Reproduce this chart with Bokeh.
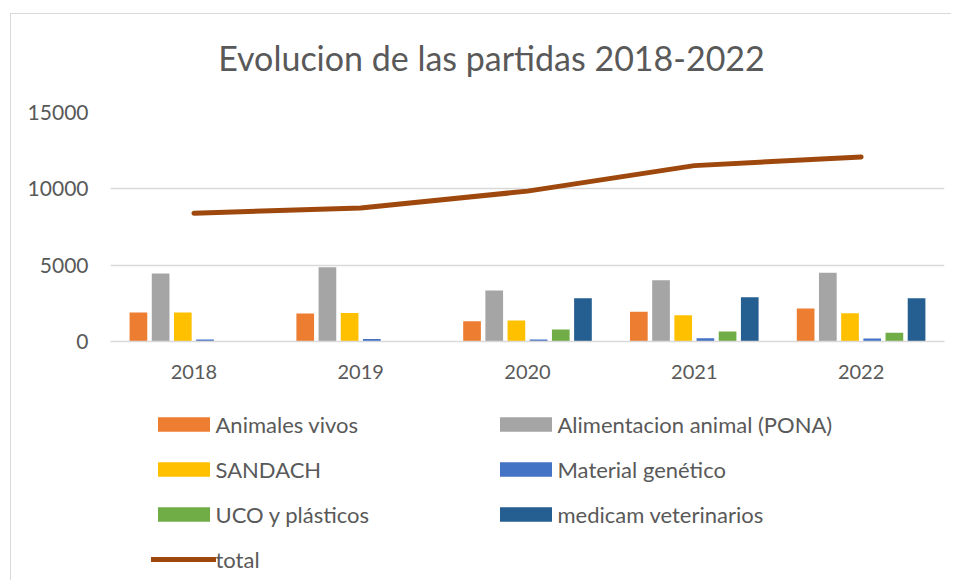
from bokeh.plotting import figure
from bokeh.layouts import column
from bokeh.models import (ColumnDataSource, FactorRange, Range1d, FixedTicker,
                          Legend, LegendItem, Label)
from bokeh.transform import dodge
from bokeh.embed import file_html
from bokeh.resources import INLINE

years = ["2018", "2019", "2020", "2021", "2022"]
animales_vivos = [1900, 1835, 1330, 1945, 2160]
alimentacion_animal = [4450, 4870, 3340, 4020, 4500]
sandach = [1900, 1875, 1375, 1725, 1855]
material_genetico = [130, 170, 130, 215, 190]
uco_plasticos = [0, 0, 790, 655, 565]
medicam_veterinarios = [0, 0, 2840, 2900, 2840]
total = [8400, 8750, 9850, 11520, 12090]

TITLE = "Evolucion de las partidas 2018-2022"
series = [
    ("animales_vivos", "Animales vivos", "#ED7D31"),
    ("alimentacion_animal", "Alimentacion animal (PONA)", "#A5A5A5"),
    ("sandach", "SANDACH", "#FFC000"),
    ("material_genetico", "Material genético", "#4472C4"),
    ("uco_plasticos", "UCO y plásticos", "#70AD47"),
    ("medicam_veterinarios", "medicam veterinarios", "#255E91"),
]
LINE_COLOR = "#9E480E"

source = ColumnDataSource(dict(
    year=years,
    animales_vivos=animales_vivos,
    alimentacion_animal=alimentacion_animal,
    sandach=sandach,
    material_genetico=material_genetico,
    uco_plasticos=uco_plasticos,
    medicam_veterinarios=medicam_veterinarios,
    total=total,
))

FONT = "Lato"
TXT = "#595959"
GRID = "#D9D9D9"
W = 940
ML, MR = 99, 7
FW = W - ML - MR


def blank(fig):
    fig.outline_line_color = None
    fig.grid.visible = False
    fig.background_fill_color = "white"
    fig.border_fill_color = "white"


# ---------------- title panel ----------------
TH = 85
tf = figure(width=W, height=TH, x_range=Range1d(0, FW), y_range=Range1d(0, TH),
            x_axis_location=None, y_axis_location=None,
            output_backend="svg", toolbar_location=None,
            min_border_left=ML, min_border_right=MR,
            min_border_top=0, min_border_bottom=0)
blank(tf)
tf.add_layout(Label(x=381, y=42, text=TITLE, text_align="center",
                    text_baseline="middle", text_font=FONT,
                    text_font_size="34px", text_color=TXT))

# ---------------- main chart ----------------
p = figure(
    width=W, height=295,
    x_range=FactorRange(*years),
    y_range=Range1d(0, 15000),
    output_backend="svg", toolbar_location=None,
    min_border_left=ML, min_border_right=MR,
    min_border_top=13, min_border_bottom=53,
)
p.background_fill_color = "white"
p.border_fill_color = "white"
p.outline_line_color = None

step = 0.133
bw = 0.106
n = len(series)
for i, (col, label, color) in enumerate(series):
    off = (i - (n - 1) / 2) * step
    p.vbar(x=dodge("year", off, range=p.x_range), top=col, width=bw,
           source=source, fill_color=color, line_color=None)

p.line(x="year", y="total", source=source, line_width=5,
       line_color=LINE_COLOR, line_cap="round", line_join="round")

p.xgrid.grid_line_color = None
p.ygrid.grid_line_color = GRID
p.ygrid.grid_line_width = 1.3
p.yaxis.ticker = FixedTicker(ticks=[0, 5000, 10000, 15000])
p.yaxis.axis_line_color = None
p.yaxis.major_tick_line_color = None
p.yaxis.major_tick_out = 0
p.yaxis.major_tick_in = 0
p.yaxis.minor_tick_line_color = None
p.yaxis.major_label_text_font = FONT
p.yaxis.major_label_text_font_size = "21px"
p.yaxis.major_label_text_color = TXT
p.yaxis.major_label_standoff = 22

p.xaxis.axis_line_color = GRID
p.xaxis.axis_line_width = 1.5
p.xaxis.major_tick_line_color = None
p.xaxis.major_tick_out = 0
p.xaxis.major_tick_in = 0
p.xaxis.minor_tick_line_color = None
p.xaxis.major_label_text_font = FONT
p.xaxis.major_label_text_font_size = "20px"
p.xaxis.major_label_text_color = TXT
p.xaxis.major_label_standoff = 23

# ---------------- legend panel ----------------
lf = figure(
    width=W, height=186,
    x_range=FactorRange(*years), y_range=Range1d(0, 15000),
    x_axis_location=None, y_axis_location=None,
    output_backend="svg", toolbar_location=None,
    min_border_left=ML, min_border_right=MR,
    min_border_top=0, min_border_bottom=0,
)
blank(lf)

items = []
for col, label, color in series:
    r = lf.vbar(x="year", top=col, width=0.1, source=source,
                fill_color=color, line_color=None, visible=False)
    items.append(LegendItem(label=label, renderers=[r]))
rl = lf.line(x="year", y="total", source=source, line_width=5,
             line_color=LINE_COLOR, line_cap="round", visible=False)
items.append(LegendItem(label="total", renderers=[rl]))

left_items = [items[0], items[2], items[4], items[6]]
right_items = [items[1], items[3], items[5]]


def make_legend(its, loc):
    lg = Legend(items=its, location=loc, orientation="vertical")
    lg.border_line_color = None
    lg.background_fill_alpha = 0
    lg.padding = 0
    lg.margin = 0
    lg.spacing = 18
    lg.glyph_width = 65
    lg.glyph_height = 18
    lg.label_standoff = 0
    lg.label_height = 26
    lg.label_text_font = FONT
    lg.label_text_font_size = "22px"
    lg.label_text_color = TXT
    lg.click_policy = "none"
    return lg


lf.add_layout(make_legend(left_items, (40.5, 7.5)), "center")
lf.add_layout(make_legend(right_items, (382.5, 52.5)), "center")

layout = column(tf, p, lf, spacing=0)
layout.styles = {"margin-left": "10px", "margin-top": "13px",
                 "border-left": "1px solid #D9D9D9", "border-top": "1px solid #D9D9D9"}

open("out.html", "w").write(file_html(layout, INLINE))
